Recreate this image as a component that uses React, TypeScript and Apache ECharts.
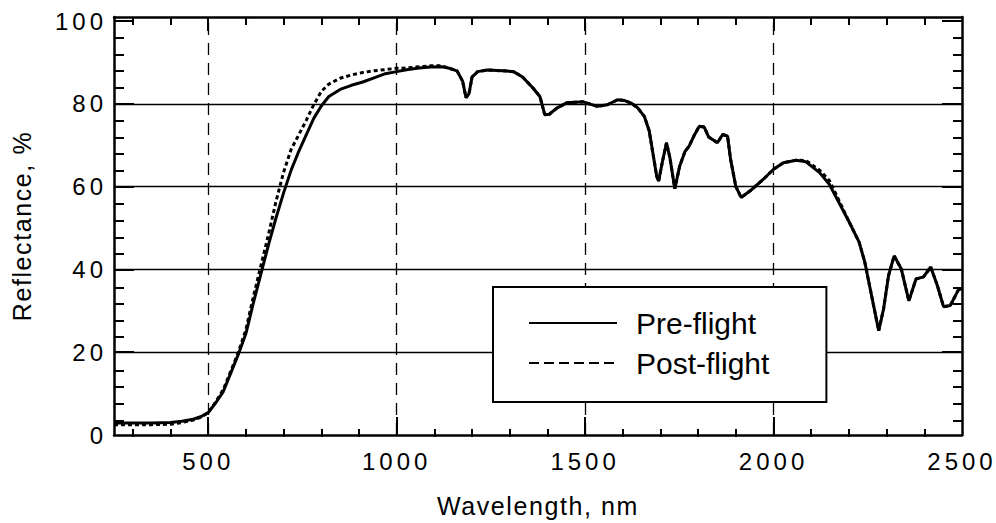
import React, { useEffect, useRef } from "react";
import * as echarts from "echarts";

const wavelengths = [250, 300, 350, 400, 430, 460, 480, 500, 520, 540, 560, 580, 600, 620, 640, 660, 680, 700, 720, 740, 760, 780, 800, 820, 850, 880, 910, 940, 970, 1000, 1030, 1060, 1090, 1120, 1140, 1160, 1175, 1184, 1192, 1200, 1215, 1240, 1281, 1310, 1334, 1361, 1380, 1393, 1405, 1425, 1452, 1495, 1532, 1559, 1586, 1605, 1622, 1640, 1657, 1670, 1680, 1690, 1695, 1705, 1716, 1725, 1738, 1751, 1765, 1776, 1790, 1803, 1816, 1828, 1838, 1851, 1865, 1878, 1886, 1900, 1914, 1938, 1973, 2000, 2026, 2060, 2086, 2122, 2148, 2164, 2201, 2227, 2242, 2260, 2279, 2292, 2305, 2320, 2339, 2359, 2378, 2398, 2417, 2435, 2451, 2469, 2490, 2500];

const preFlight = [2.9, 2.9, 2.9, 3.0, 3.3, 3.8, 4.4, 5.4, 7.8, 10.5, 15.0, 19.5, 24.5, 32.0, 39.0, 46.0, 52.5, 58.5, 64.0, 68.5, 72.5, 76.5, 79.5, 81.8, 83.5, 84.5, 85.3, 86.3, 87.3, 87.8, 88.3, 88.7, 88.9, 89.0, 88.6, 88.0, 85.5, 81.5, 82.5, 86.5, 87.8, 88.2, 88.0, 87.8, 86.5, 83.9, 81.8, 77.4, 77.5, 79.0, 80.3, 80.5, 79.4, 79.8, 81.0, 80.8, 80.2, 79.0, 77.0, 73.5, 68.0, 62.5, 61.3, 66.0, 70.6, 67.0, 59.5, 65.0, 68.5, 69.8, 72.5, 74.6, 74.4, 72.0, 71.4, 70.6, 72.6, 72.2, 66.6, 60.0, 57.4, 59.0, 61.8, 64.2, 65.8, 66.4, 66.0, 63.4, 60.6, 57.8, 51.4, 46.6, 41.8, 33.7, 25.2, 30.5, 38.5, 43.3, 40.1, 32.4, 37.7, 38.2, 40.6, 36.0, 31.0, 31.3, 35.0, 35.5];

const postFlight = [2.5, 2.5, 2.5, 2.6, 3.0, 3.6, 4.3, 5.4, 8.0, 11.0, 15.5, 20.0, 25.5, 33.5, 41.0, 48.5, 56.5, 63.5, 69.0, 72.5, 76.0, 79.8, 83.0, 84.8, 86.2, 87.0, 87.6, 88.0, 88.3, 88.6, 88.7, 89.0, 89.2, 89.2, 88.6, 88.0, 85.5, 81.5, 82.5, 86.5, 87.8, 88.2, 88.0, 87.8, 86.5, 83.9, 81.8, 77.4, 77.5, 79.0, 80.3, 80.5, 79.4, 79.8, 81.0, 80.8, 80.2, 79.0, 77.0, 73.5, 68.0, 62.5, 61.3, 66.0, 70.6, 67.0, 59.5, 65.0, 68.5, 69.8, 72.5, 74.6, 74.4, 72.0, 71.4, 70.6, 72.6, 72.2, 66.6, 60.0, 57.4, 59.0, 61.8, 64.2, 65.8, 66.4, 66.3, 64.0, 61.5, 58.5, 51.4, 46.6, 41.8, 33.7, 25.2, 30.5, 38.5, 43.3, 40.1, 32.4, 37.7, 38.2, 40.6, 36.0, 31.0, 31.3, 35.0, 35.5];

const xLabelValues = [500, 1000, 1500, 2000, 2500];
const xMajorTicks = [500, 1000, 1500, 2000];
const xMinorTicks = [300, 400, 600, 700, 800, 900, 1100, 1200, 1300, 1400, 1600, 1700, 1800, 1900, 2100, 2200, 2300, 2400];
const xGridLines = [500, 1000, 1500, 2000];

const yLabelValues = [0, 20, 40, 60, 80, 100];
const yMajorTicks = [20, 40, 60, 80, 100];
const yMinorTicks = [4, 8, 12, 16, 24, 28, 32, 36, 44, 48, 52, 56, 64, 68, 72, 76, 84, 88, 92, 96];
const yGridLines = [20, 40, 60, 80];

const seriesNames = ["Pre-flight", "Post-flight"];

const FONT = "'Liberation Sans', Arial, Helvetica, sans-serif";
const INK = "#000";

const CSS = `
.refl-chart text[style*="24px"] { letter-spacing: 4px; }
.refl-chart text[style*="25px"] { letter-spacing: 1.6px; }
`;

export default function App() {
  const ref = useRef<HTMLDivElement>(null);

  useEffect(() => {
    if (!ref.current) return;
    const chart = echarts.init(ref.current, undefined, { renderer: "svg" });

    const xBase = (gridIndex: number, position: string) => ({
      type: "value",
      gridIndex,
      position,
      min: 250,
      max: 2500,
      splitLine: { show: false },
      axisLine: { show: gridIndex === 0, onZero: false, lineStyle: { color: INK, width: 2.5 } },
    });
    const yBase = (gridIndex: number, position: string) => ({
      type: "value",
      gridIndex,
      position,
      min: 0,
      max: 101,
      splitLine: { show: false },
      axisLine: { show: gridIndex === 0, onZero: false, lineStyle: { color: INK, width: 2.5 } },
    });

    const option = {
      animation: false,
      backgroundColor: "#fff",
      textStyle: { fontFamily: FONT, color: INK },
      grid: [
        { left: 114, right: 34, top: 17, bottom: 86, containLabel: false },
        { left: 114, right: 34, top: 17, bottom: 86, containLabel: false },
      ],
      xAxis: [
        {
          ...xBase(0, "bottom"),
          name: "Wavelength, nm",
          nameLocation: "middle",
          nameGap: 58,
          nameTextStyle: { fontSize: 25, color: INK, fontFamily: FONT },
          axisTick: { show: true, inside: true, length: 18, customValues: xMajorTicks, lineStyle: { color: INK, width: 2 } },
          axisLabel: {
            show: true,
            customValues: xLabelValues,
            fontSize: 24,
            margin: 14,
            color: INK,
            fontFamily: FONT,
            formatter: (v: number) => String(v),
          },
        },
        {
          ...xBase(0, "top"),
          axisTick: { show: true, inside: true, length: 14, customValues: xMajorTicks, lineStyle: { color: INK, width: 2 } },
          axisLabel: { show: false },
        },
        {
          ...xBase(1, "bottom"),
          axisTick: { show: true, inside: true, length: 8, customValues: xMinorTicks, lineStyle: { color: INK, width: 2 } },
          axisLabel: { show: false },
        },
        {
          ...xBase(1, "top"),
          axisTick: { show: true, inside: true, length: 8, customValues: xMinorTicks, lineStyle: { color: INK, width: 2 } },
          axisLabel: { show: false },
        },
      ],
      yAxis: [
        {
          ...yBase(0, "left"),
          name: "Reflectance, %",
          nameLocation: "middle",
          nameGap: 80,
          nameTextStyle: { fontSize: 25, color: INK, fontFamily: FONT },
          axisTick: { show: true, inside: true, length: 20, customValues: yMajorTicks, lineStyle: { color: INK, width: 2 } },
          axisLabel: {
            show: true,
            customValues: yLabelValues,
            fontSize: 24,
            margin: 7,
            color: INK,
            fontFamily: FONT,
            formatter: (v: number) => String(v),
          },
        },
        {
          ...yBase(0, "right"),
          axisTick: { show: true, inside: true, length: 20, customValues: yMajorTicks, lineStyle: { color: INK, width: 2 } },
          axisLabel: { show: false },
        },
        {
          ...yBase(1, "left"),
          axisTick: { show: true, inside: true, length: 10, customValues: yMinorTicks, lineStyle: { color: INK, width: 2 } },
          axisLabel: { show: false },
        },
        {
          ...yBase(1, "right"),
          axisTick: { show: true, inside: true, length: 9, customValues: yMinorTicks, lineStyle: { color: INK, width: 2 } },
          axisLabel: { show: false },
        },
      ],
      legend: {
        show: true,
        data: [
          { name: seriesNames[0], lineStyle: { width: 2, type: "solid" } },
          { name: seriesNames[1], lineStyle: { width: 2, type: [10, 5] } },
        ],
        orient: "vertical",
        left: 493,
        top: 287,
        z: 10,
        itemWidth: 88,
        itemHeight: 14,
        itemGap: 10,
        padding: [21, 57, 24, 35],
        backgroundColor: "#fff",
        borderColor: INK,
        borderWidth: 2,
        borderRadius: 0,
        selectedMode: false,
        itemStyle: { opacity: 0 },
        textStyle: { fontSize: 30, color: INK, fontFamily: FONT, padding: [0, 0, 0, 14] },
      },
      series: [
        {
          name: seriesNames[0],
          type: "line",
          xAxisIndex: 0,
          yAxisIndex: 0,
          symbol: "none",
          showSymbol: false,
          data: wavelengths.map((w, i) => [w, preFlight[i]]),
          lineStyle: { color: INK, width: 3, type: "solid" },
          itemStyle: { color: INK },
          z: 3,
          markLine: {
            silent: true,
            symbol: ["none", "none"],
            label: { show: false },
            z: 1,
            data: [
              ...xGridLines.map((v) => ({ xAxis: v, lineStyle: { color: INK, width: 1.3, type: [12, 8] } })),
              ...yGridLines.map((v) => ({ yAxis: v, lineStyle: { color: INK, width: 1.3, type: "solid" } })),
            ],
          },
        },
        {
          name: seriesNames[1],
          type: "line",
          xAxisIndex: 0,
          yAxisIndex: 0,
          symbol: "none",
          showSymbol: false,
          data: wavelengths.map((w, i) => [w, postFlight[i]]),
          lineStyle: { color: INK, width: 3, type: [4, 3] },
          itemStyle: { color: INK },
          z: 3,
        },
      ],
    };

    chart.setOption(option as any);
    return () => chart.dispose();
  }, []);

  return (
    <>
      <style>{CSS}</style>
      <div
        ref={ref}
        className="refl-chart"
        style={{ position: "fixed", left: 0, top: 0, width: 996, height: 523, background: "#fff" }}
      />
    </>
  );
}
